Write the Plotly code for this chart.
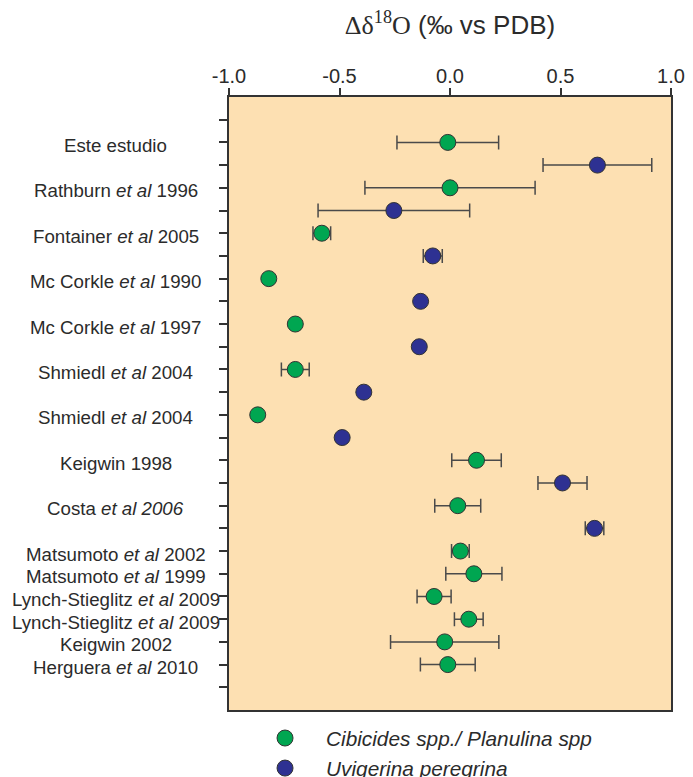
import plotly.graph_objects as go

# ---- data ----
study_labels = [
    "Este estudio", "Rathburn <i>et al</i> 1996", "Fontainer <i>et al</i> 2005",
    "Mc Corkle <i>et al</i> 1990", "Mc Corkle <i>et al</i> 1997", "Shmiedl <i>et al</i> 2004",
    "Shmiedl <i>et al</i> 2004", "Keigwin 1998", "Costa <i>et al 2006</i>",
    "Matsumoto <i>et al</i> 2002", "Matsumoto <i>et al</i> 1999",
    "Lynch-Stieglitz <i>et al</i> 2009", "Lynch-Stieglitz <i>et al</i> 2009",
    "Keigwin 2002", "Herguera <i>et al</i> 2010",
]
label_rows = [2, 4, 6, 8, 10, 12, 14, 16, 18, 20, 21, 22, 23, 24, 25]

cib_rows = [2, 4, 6, 8, 10, 12, 14, 16, 18, 20, 21, 22, 23, 24, 25]
cib_vals = [-0.01, 0.0, -0.58, -0.82, -0.70, -0.70, -0.87, 0.12, 0.035, 0.047, 0.108, -0.072, 0.085, -0.024, -0.01]
cib_err = [0.23, 0.385, 0.04, None, None, 0.063, None, 0.112, 0.104, 0.04, 0.127, 0.077, 0.065, 0.245, 0.124]

uvi_rows = [3, 5, 7, 9, 11, 13, 15, 17, 19]
uvi_vals = [0.667, -0.254, -0.078, -0.133, -0.139, -0.39, -0.488, 0.509, 0.654]
uvi_err = [0.246, 0.343, 0.043, None, None, None, None, 0.111, 0.042]

x_ticks = [-1.0, -0.5, 0.0, 0.5, 1.0]
x_tick_text = ["-1.0", "-0.5", "0.0", "0.5", "1.0"]
n_rows = 27

FONT = "Arial, Liberation Sans, sans-serif"
GREEN = "#00A651"
BLUE = "#2E3192"
ERRC = "#4a4a4a"

fig = go.Figure()


def add_series(name, xs, ys, errs, color):
    fig.add_trace(go.Scatter(
        x=xs, y=ys, mode="markers", name=name,
        marker=dict(size=16, color=color, line=dict(color="#333333", width=1)),
        error_x=dict(type="data", array=errs, symmetric=True, color=ERRC,
                     thickness=1.5, width=7),
    ))


add_series("<i>Cibicides spp./ Planulina spp</i>", cib_vals, cib_rows, cib_err, GREEN)
add_series("<i>Uvigerina peregrina</i>", uvi_vals, uvi_rows, uvi_err, BLUE)

for lab, r in zip(study_labels, label_rows):
    fig.add_annotation(x=-0.2557, xref="paper", y=r, yref="y", text=lab,
                       showarrow=False, xanchor="center", yanchor="middle", yshift=-3,
                       font=dict(family=FONT, size=18.7, color="#2b2b2b"))

fig.update_layout(
    width=693, height=777,
    margin=dict(l=229, r=22, t=97, b=67, autoexpand=False),
    paper_bgcolor="white",
    plot_bgcolor="#FDE0B2",
    font=dict(family=FONT, color="#2b2b2b"),
    title=dict(
        text="<span style='font-family:Liberation Serif, Times New Roman, serif'>Δδ<sup>18</sup>O</span> (‰ vs PDB)",
        x=0.5, xref="paper", xanchor="center",
        y=1 - 25 / 777, yref="container", yanchor="middle",
        font=dict(family=FONT, size=26, color="#2b2b2b"),
    ),
    xaxis=dict(
        side="top", range=[-1.0, 1.0], tickvals=x_ticks, ticktext=x_tick_text,
        ticks="outside", ticklen=7, tickwidth=2, tickcolor="#333333",
        ticklabelstandoff=-3,
        showline=True, linecolor="#333333", linewidth=2, mirror=True,
        showgrid=False, zeroline=False,
        tickfont=dict(family=FONT, size=20, color="#2b2b2b"),
    ),
    yaxis=dict(
        range=[n_rows, 0], tickvals=list(range(1, n_rows)), showticklabels=False,
        ticks="outside", ticklen=8, tickwidth=2, tickcolor="#333333",
        showline=True, linecolor="#333333", linewidth=2, mirror=True,
        showgrid=False, zeroline=False,
    ),
    showlegend=True,
    legend=dict(
        x=0.034, xanchor="left", y=1 - 718 / 777, yref="container", yanchor="top",
        orientation="v", itemwidth=72, bgcolor="rgba(0,0,0,0)",
        font=dict(family=FONT, size=20.8, color="#2b2b2b"),
    ),
)

fig.write_html("out.html")
